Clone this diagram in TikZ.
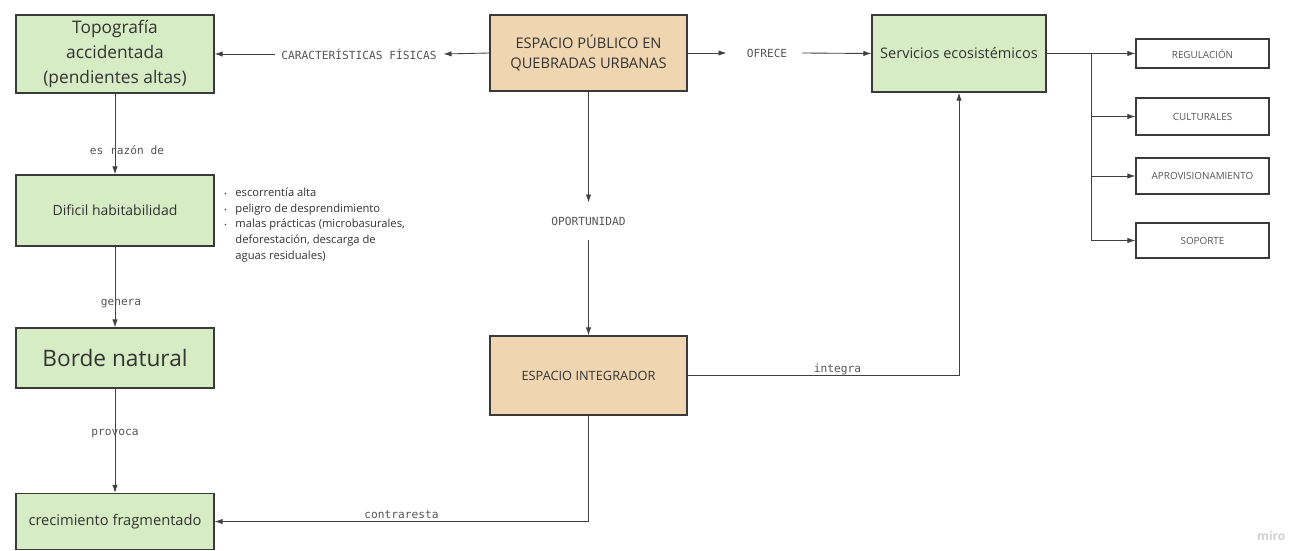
\documentclass[tikz,border=0pt]{standalone}
\usepackage{fontspec}
\setmainfont{Open Sans}
\newfontfamily\lblfont{DejaVu Sans Mono}
\usetikzlibrary{arrows.meta}
\definecolor{boxgreen}{HTML}{D6ECC4}
\definecolor{boxtan}{HTML}{EFD6B0}
\definecolor{edge}{HTML}{3A3A3A}
\definecolor{wire}{HTML}{404040}
\definecolor{txt}{HTML}{333333}
\definecolor{lbl}{HTML}{555555}
\tikzset{
  gbox/.style={draw=edge, line width=0.9pt, fill=boxgreen, text=txt, align=center, inner sep=0pt},
  tbox/.style={draw=edge, line width=0.9pt, fill=boxtan, text=txt, align=center, inner sep=0pt},
  wbox/.style={draw=edge, line width=0.8pt, fill=white, text=lbl, align=center, inner sep=0pt,
    minimum width=133*0.75pt, font=\fontsize{7.4}{9}\selectfont},
  wire/.style={draw=wire, line width=0.65pt},
  arr/.style={wire, -{Latex[length=6pt,width=4pt]}},
  lab/.style={text=lbl, font=\lblfont\fontsize{8.4}{10}\selectfont, inner sep=0pt},
  gaplab/.style={lab, fill=white, inner xsep=5pt, inner ysep=0pt},
}
\begin{document}
\begin{tikzpicture}[x=0.75pt,y=-0.75pt]
\useasboundingbox[fill=white] (0,0) rectangle (1298,550);
% left column
\node[gbox, minimum width=198*0.75pt, minimum height=78*0.75pt, font=\fontsize{13}{19}\selectfont]
  (topo) at (115,54) {Topografía\\accidentada\\(pendientes altas)};
\node[gbox, minimum width=198*0.75pt, minimum height=71*0.75pt, font=\fontsize{10.5}{13}\selectfont]
  (dif) at (115,210.5) {Dificil habitabilidad};
\node[gbox, minimum width=198*0.75pt, minimum height=60*0.75pt, font=\fontsize{17}{20}\selectfont]
  (borde) at (115,358) {Borde natural};
\node[gbox, minimum width=198*0.75pt, minimum height=56*0.75pt, font=\fontsize{11}{13}\selectfont]
  (crec) at (115,521.5) {crecimiento fragmentado};
% center
\node[tbox, minimum width=197*0.75pt, minimum height=76*0.75pt, font=\fontsize{11}{15}\selectfont]
  (esp) at (588.5,53) {ESPACIO PÚBLICO EN\\QUEBRADAS URBANAS};
\node[tbox, minimum width=197*0.75pt, minimum height=79*0.75pt, font=\fontsize{9.6}{12}\selectfont]
  (int) at (588.5,375.5) {ESPACIO INTEGRADOR};
% right
\node[gbox, minimum width=174*0.75pt, minimum height=77*0.75pt, font=\fontsize{10.9}{13}\selectfont]
  (serv) at (959,53.5) {Servicios ecosistémicos};
\node[wbox, minimum height=29*0.75pt] (reg) at (1202.5,53.5) {REGULACIÓN};
\node[wbox, minimum height=37*0.75pt] (cul) at (1202.5,116.5) {CULTURALES};
\node[wbox, minimum height=36*0.75pt] (apr) at (1202.5,176) {APROVISIONAMIENTO};
\node[wbox, minimum height=35*0.75pt] (sop) at (1202.5,240.5) {SOPORTE};
% bullet list
\node[anchor=north west, text=txt, inner sep=0pt, font=\fontsize{8.4}{11.8}\selectfont] (notes) at (224,185)
{\begin{tabular}{@{}l@{\hspace{6.5pt}}l@{}}
{\tiny\textbullet} & escorrentía alta\\
{\tiny\textbullet} & peligro de desprendimiento\\
{\tiny\textbullet} & malas prácticas (microbasurales,\\
 & deforestación, descarga de\\
 & aguas residuales)
\end{tabular}};
% labelled connectors with gaps
\node[gaplab] (lcar) at (359,54) {CARACTERÍSTICAS FÍSICAS};
\draw[arr] (esp.west) -- (lcar.east);
\draw[arr] (lcar.west) -- (topo.east);
\node[gaplab, inner xsep=0pt] (lofr) at (767,53) {OFRECE};
\draw[arr] (esp.east) -- ([xshift=-15pt]lofr.west);
\draw[arr] ([xshift=11pt]lofr.east) -- (serv.west);
\node[gaplab, inner xsep=0pt, inner ysep=10.5pt] (lopo) at (588.5,221) {OPORTUNIDAD};
\draw[arr] (esp.south) -- (lopo.north);
\draw[arr] (lopo.south) -- (int.north);
% left chain
\draw[arr] (topo.south) -- (dif.north) node[lab, pos=0.7, xshift=9pt] {es razón de};
\draw[arr] (dif.south) -- (borde.north) node[lab, pos=0.7, xshift=4.5pt] {genera};
\draw[arr] (borde.south) -- (crec.north) node[lab, pos=0.43] {provoca};
% integra / contraresta
\draw[arr] (int.east) -| (serv.south) node[lab, pos=0.276, anchor=south, yshift=0.5pt] {integra};
\draw[arr] (int.south) |- (crec.east) node[lab, pos=0.75, anchor=south, yshift=2pt] {contraresta};
% branches
\coordinate (br) at (1091,53.5);
\draw[wire, line width=1.2pt] (serv.east) -- (br);
\draw[arr] (serv.east) -- (reg.west);
\draw[arr] (br) |- (cul.west);
\draw[arr] (br) |- (apr.west);
\draw[arr] (br) |- (sop.west);
% watermark
\node[text=black!18, font=\fontsize{9}{10}\selectfont\bfseries, anchor=east] (miro) at (1290,536) {miro};
\end{tikzpicture}
\end{document}
